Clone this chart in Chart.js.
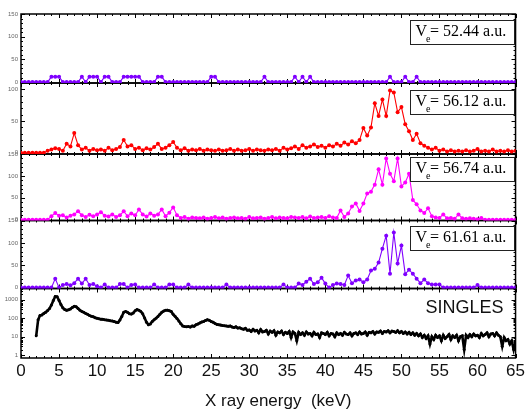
<!DOCTYPE html>
<html>
<head>
<meta charset="utf-8">
<script src="https://cdn.jsdelivr.net/npm/chart.js@4.4.1/dist/chart.umd.min.js"></script>
<style>
  html, body { margin: 0; background: #fff; }
</style>
</head>
<body>
<canvas id="chart" width="528" height="411"></canvas>
<script>
// 1. Data

// coincidence spectra, 0.5 keV bins
const binEnergy = [
  0,0.5,1,1.5,2,2.5,3,3.5,4,4.5,5,5.5,6,6.5,7,7.5,8,8.5,9,9.5,
  10,10.5,11,11.5,12,12.5,13,13.5,14,14.5,15,15.5,16,16.5,17,17.5,18,18.5,19,19.5,
  20,20.5,21,21.5,22,22.5,23,23.5,24,24.5,25,25.5,26,26.5,27,27.5,28,28.5,29,29.5,
  30,30.5,31,31.5,32,32.5,33,33.5,34,34.5,35,35.5,36,36.5,37,37.5,38,38.5,39,39.5,
  40,40.5,41,41.5,42,42.5,43,43.5,44,44.5,45,45.5,46,46.5,47,47.5,48,48.5,49,49.5,
  50,50.5,51,51.5,52,52.5,53,53.5,54,54.5,55,55.5,56,56.5,57,57.5,58,58.5,59,59.5,
  60,60.5,61,61.5,62,62.5,63,63.5,64,64.5,65
];

const counts5244 = [
  0,0, 0,0, 0,0, 0,0, 12,12, 12,0, 0,0, 0,0, 12,0, 12,12,
  12,0, 12,12, 0,0, 0,12, 12,12, 12,12, 0,0, 0,0, 12,12, 0,0,
  0,0, 0,0, 0,0, 0,0, 0,0, 12,12, 0,0, 0,0, 0,0, 0,0,
  0,0, 0,0, 12,0, 0,0, 0,0, 0,0, 12,0, 12,0, 12,0, 0,0,
  0,0, 0,0, 0,0, 0,0, 0,0, 0,0, 0,0, 0,0, 0,12, 0,0,
  0,12, 0,0, 12,0, 0,0, 0,0, 0,0, 0,0, 0,0, 0,0, 0,0,
  0,0, 0,0, 0,0, 0,0, 0,0, 0
];

const counts5612 = [
  0,0, 0,0, 0,0, 0,3, 5,7, 6,3, 14,10, 31,12, 5,8, 3,6,
  4,5, 3,8, 4,6, 9,20, 10,12, 6,8, 4,7, 5,9, 14,6, 8,12,
  17,8, 4,7, 3,5, 4,6, 3,5, 4,3, 5,3, 4,6, 3,5, 3,4,
  6,3, 5,4, 3,5, 4,6, 3,8, 5,7, 10,6, 12,8, 10,13, 9,11,
  8,12, 10,14, 11,16, 13,18, 15,20, 39,27, 40,78, 58,84, 58,98, 95,64,
  72,45, 34,20, 30,15, 11,8, 5,8, 3,5, 2,4, 2,3, 2,4, 2,3,
  6,2, 3,2, 5,2, 3,2, 4,2, 3
];

const counts5674 = [
  0,0, 0,0, 0,0, 0,0, 8,15, 9,10, 5,9, 12,19, 10,6, 11,8,
  12,17, 9,7, 12,6, 10,19, 8,14, 10,23, 12,7, 14,9, 12,23, 8,16,
  28,10, 4,6, 2,5, 4,3, 5,2, 4,6, 3,5, 2,4, 5,3, 4,2,
  6,3, 4,5, 2,4, 6,3, 5,4, 3,6, 5,4, 6,3, 7,4, 5,6,
  4,8, 5,4, 21,6, 14,30, 37,20, 37,60, 64,80, 115,80, 140,105, 88,140,
  76,85, 105,45, 35,21, 15,26, 8,5, 4,12, 3,4, 2,12, 3,2, 3,2,
  1,4, 0,0, 0,0, 0,0, 0,0, 0
];

const counts6161 = [
  0,0, 0,0, 0,0, 0,0, 0,20, 0,6, 8,5, 10,20, 9,20, 6,8,
  3,0, 7,0, 0,0, 8,8, 0,6, 7,0, 0,0, 0,7, 0,0, 0,7,
  7,0, 0,0, 7,0, 0,0, 0,0, 0,0, 0,0, 7,0, 0,0, 0,0,
  0,0, 0,0, 0,0, 0,0, 0,7, 0,0, 0,9, 6,13, 20,8, 12,22,
  9,0, 6,9, 8,6, 27,10, 16,18, 12,18, 38,42, 56,87, 116,31, 123,54,
  94,30, 40,31, 20,10, 18,10, 7,7, 7,0, 0,0, 0,0, 0,0, 0,0,
  6,0, 0,0, 0,0, 0,0, 0,0, 0
];

// singles spectrum, 0.25 keV steps
const singlesEnergy = [
  2,2.25,2.5,2.75, 3,3.25,3.5,3.75, 4,4.25,4.5,4.75, 5,5.25,5.5,5.75,
  6,6.25,6.5,6.75, 7,7.25,7.5,7.75, 8,8.25,8.5,8.75, 9,9.25,9.5,9.75,
  10,10.25,10.5,10.75, 11,11.25,11.5,11.75, 12,12.25,12.5,12.75, 13,13.25,13.5,13.75,
  14,14.25,14.5,14.75, 15,15.25,15.5,15.75, 16,16.25,16.5,16.75, 17,17.25,17.5,17.75,
  18,18.25,18.5,18.75, 19,19.25,19.5,19.75, 20,20.25,20.5,20.75, 21,21.25,21.5,21.75,
  22,22.25,22.5,22.75, 23,23.25,23.5,23.75, 24,24.25,24.5,24.75, 25,25.25,25.5,25.75,
  26,26.25,26.5,26.75, 27,27.25,27.5,27.75, 28,28.25,28.5,28.75, 29,29.25,29.5,29.75,
  30,30.25,30.5,30.75, 31,31.25,31.5,31.75, 32,32.25,32.5,32.75, 33,33.25,33.5,33.75,
  34,34.25,34.5,34.75, 35,35.25,35.5,35.75, 36,36.25,36.5,36.75, 37,37.25,37.5,37.75,
  38,38.25,38.5,38.75, 39,39.25,39.5,39.75, 40,40.25,40.5,40.75, 41,41.25,41.5,41.75,
  42,42.25,42.5,42.75, 43,43.25,43.5,43.75, 44,44.25,44.5,44.75, 45,45.25,45.5,45.75,
  46,46.25,46.5,46.75, 47,47.25,47.5,47.75, 48,48.25,48.5,48.75, 49,49.25,49.5,49.75,
  50,50.25,50.5,50.75, 51,51.25,51.5,51.75, 52,52.25,52.5,52.75, 53,53.25,53.5,53.75,
  54,54.25,54.5,54.75, 55,55.25,55.5,55.75, 56,56.25,56.5,56.75, 57,57.25,57.5,57.75,
  58,58.25,58.5,58.75, 59,59.25,59.5,59.75, 60,60.25,60.5,60.75, 61,61.25,61.5,61.75,
  62,62.25,62.5,62.75, 63,63.25,63.5,63.75, 64,64.25,64.5,64.75, 65
];

const singlesCounts = [
  11,82,140,150, 180,210,260,330, 520,900,1500,1450, 900,540,360,290,
  265,280,315,380, 435,410,330,265, 230,205,180,160, 140,125,118,105,
  98,92,88,86, 82,80,76,72, 70,66,60,58, 80,124,210,230,
  205,175,165,190, 250,290,270,230, 170,101,60,44, 48,66,82,100,
  124,160,205,240, 265,270,250,230, 160,125,95,70, 50,38,35,34,
  35,33,38,36, 44,48,55,62, 66,75,82,76, 66,60,52,46,
  44,42,40,39, 38,36,38,33, 31,34,29,30, 27,25,28,22,
  23,19,25,20, 22,16,24,18, 19,22,14,20, 17,21,12,18,
  16,20,13,17, 15,19,9,18, 15,6,17,13, 16,12,18,14,
  15,11,17,13, 14,9,16,15, 13,17,11,15, 14,10,16,13,
  15,12,17,14, 13,16,11,15, 16,13,18,14, 15,18,12,17,
  16,19,14,18, 17,20,15,19, 18,21,16,20, 19,17,21,16,
  19,15,18,14, 17,13,16,12, 15,11,14,9, 12,8,11,4,
  10,7,12,9, 11,6,12,8, 10,13,7,11, 9,12,6,10,
  11,2,12,9, 13,10,14,11, 12,9,15,11, 13,16,10,14,
  15,11,16,12, 10,3,9,6, 7,4,6,2, 5
];

const panelLabels = ['52.44', '56.12', '56.74', '61.61'];
const xTicks = [0, 5, 10, 15, 20, 25, 30, 35, 40, 45, 50, 55, 60, 65];
const countTicks = [0, 50, 100, 150];
const logTicks = [1, 10, 100, 1000];

// 2. Helpers
const toPoints = (xs, ys) => ys.map((y, i) => ({ x: xs[i], y }));

function series(label, xs, ys, color, axis, lw, r) {
  return {
    label, data: toPoints(xs, ys), yAxisID: axis,
    borderColor: color, backgroundColor: color,
    borderWidth: lw, pointRadius: r, pointBorderWidth: 0,
    pointHoverRadius: r, tension: 0
  };
}

const yTickStyle = { font: { size: 6, family: 'Liberation Sans' }, color: '#666', padding: 3 };

function linearPanel(max, weight) {
  return {
    type: 'linear', position: 'left', stack: 'panels', stackWeight: weight,
    min: -2, max: max,
    grid: { display: false, drawTicks: false }, border: { display: false },
    afterBuildTicks: s => { s.ticks = countTicks.filter(v => v <= max).map(v => ({ value: v })); },
    ticks: Object.assign({ callback: v => String(v) }, yTickStyle),
    afterFit: s => { s.width = 21; }
  };
}

// 3. Frame, inward ticks, boxes and titles
function tick(ctx, x1, y1, x2, y2) {
  ctx.beginPath(); ctx.moveTo(x1, y1); ctx.lineTo(x2, y2); ctx.stroke();
}

const panelIds = ['y1', 'y2', 'y3', 'y4', 'y5'];

const framePlugin = {
  id: 'frames',
  beforeDatasetsDraw(chart) {
    const ctx = chart.ctx, xs = chart.scales.x;
    ctx.save();
    ctx.strokeStyle = '#000';
    panelIds.forEach(id => {
      const s = chart.scales[id];
      const l = xs.left, r = xs.right, t = s.top, b = s.bottom;
      ctx.lineWidth = 1;
      for (let v = 0; v <= 65; v++) {
        const px = Math.round(xs.getPixelForValue(v)) + 0.5;
        const len = v % 5 === 0 ? 4 : 2;
        tick(ctx, px, t, px, t + len);
        tick(ctx, px, b, px, b - len);
      }
      let marks = [];
      if (s.type === 'logarithmic') {
        logTicks.forEach(d => {
          for (let m = 1; m < 10; m++) {
            const v = d * m;
            if (v >= s.min && v <= s.max) marks.push([v, m === 1 ? 4 : 2]);
          }
        });
      } else {
        for (let v = 0; v <= s.max; v += 10) marks.push([v, v % 50 === 0 ? 4 : 2]);
      }
      marks.forEach(([v, len]) => {
        const py = Math.round(s.getPixelForValue(v)) + 0.5;
        tick(ctx, l, py, l + len, py);
        tick(ctx, r, py, r - len, py);
      });
      ctx.lineWidth = 1.5;
      ctx.strokeRect(l, t, r - l, b - t);
    });
    ctx.restore();
  },
  afterDatasetsDraw(chart) {
    const ctx = chart.ctx, xs = chart.scales.x;
    const boxTop = [6, 7, 3, 5];
    ctx.save();
    panelLabels.forEach((val, i) => {
      const s = chart.scales[panelIds[i]];
      const w = 104, h = 24;
      const x = Math.round(xs.right - w - 2) + 0.5, y = Math.round(s.top + boxTop[i]) + 0.5;
      ctx.fillStyle = '#fff';
      ctx.fillRect(x, y, w, h);
      ctx.strokeStyle = '#222';
      ctx.lineWidth = 1;
      ctx.strokeRect(x, y, w, h);
      ctx.fillStyle = '#000';
      ctx.textBaseline = 'alphabetic';
      ctx.textAlign = 'left';
      ctx.font = '16px "Liberation Serif"';
      ctx.fillText('V', x + 5, y + 15);
      const vw = ctx.measureText('V').width;
      ctx.font = '10px "Liberation Serif"';
      ctx.fillText('e', x + 5 + vw - 1, y + 21);
      ctx.font = '16px "Liberation Serif"';
      ctx.fillText('= ' + val + ' a.u.', x + 5 + vw + 3, y + 15);
    });
    const s5 = chart.scales.y5;
    ctx.fillStyle = '#111';
    ctx.font = '18px "Liberation Sans"';
    ctx.textAlign = 'right';
    ctx.fillText('SINGLES', xs.right - 12, s5.top + 24);
    ctx.textAlign = 'center';
    ctx.font = '17px "Liberation Sans"';
    ctx.fillText('X ray energy  (keV)', (xs.left + xs.right) / 2 + 10, 406);
    ctx.restore();
  }
};

// 4. Chart
const purple = '#8000ff';

new Chart(document.getElementById('chart'), {
  type: 'line',
  data: {
    datasets: [
      series('Ve = 52.44 a.u.', binEnergy, counts5244, purple, 'y1', 1.1, 2),
      series('Ve = 56.12 a.u.', binEnergy, counts5612, '#ff0000', 'y2', 1.1, 2),
      series('Ve = 56.74 a.u.', binEnergy, counts5674, '#ff00ff', 'y3', 1.1, 2),
      series('Ve = 61.61 a.u.', binEnergy, counts6161, purple, 'y4', 1.1, 2),
      series('SINGLES', singlesEnergy, singlesCounts, '#000000', 'y5', 2.6, 1.5)
    ]
  },
  options: {
    responsive: false,
    animation: false,
    layout: { padding: { left: 0, right: 11, top: 14, bottom: 0 } },
    plugins: { legend: { display: false }, tooltip: { enabled: false } },
    scales: {
      x: {
        type: 'linear', min: 0, max: 65,
        grid: { display: false, drawTicks: false }, border: { display: false },
        afterBuildTicks: s => { s.ticks = xTicks.map(v => ({ value: v })); },
        ticks: {
          autoSkip: false, maxRotation: 0, padding: 3,
          font: { size: 17, family: 'Liberation Sans' }, color: '#111'
        },
        afterFit: s => { s.height = 53; }
      },
      // stacked panels are laid out bottom-up, so the lowest panel comes first
      y5: {
        type: 'logarithmic', position: 'left', stack: 'panels', stackWeight: 69.5,
        min: 0.7, max: 4000,
        grid: { display: false, drawTicks: false }, border: { display: false },
        afterBuildTicks: s => { s.ticks = logTicks.map(v => ({ value: v })); },
        ticks: Object.assign({ callback: v => String(v) }, yTickStyle),
        afterFit: s => { s.width = 21; }
      },
      y4: linearPanel(150, 68),
      y3: linearPanel(150, 66.5),
      y2: linearPanel(110, 71),
      y1: linearPanel(150, 69)
    }
  },
  plugins: [framePlugin]
});
</script>
</body>
</html>
